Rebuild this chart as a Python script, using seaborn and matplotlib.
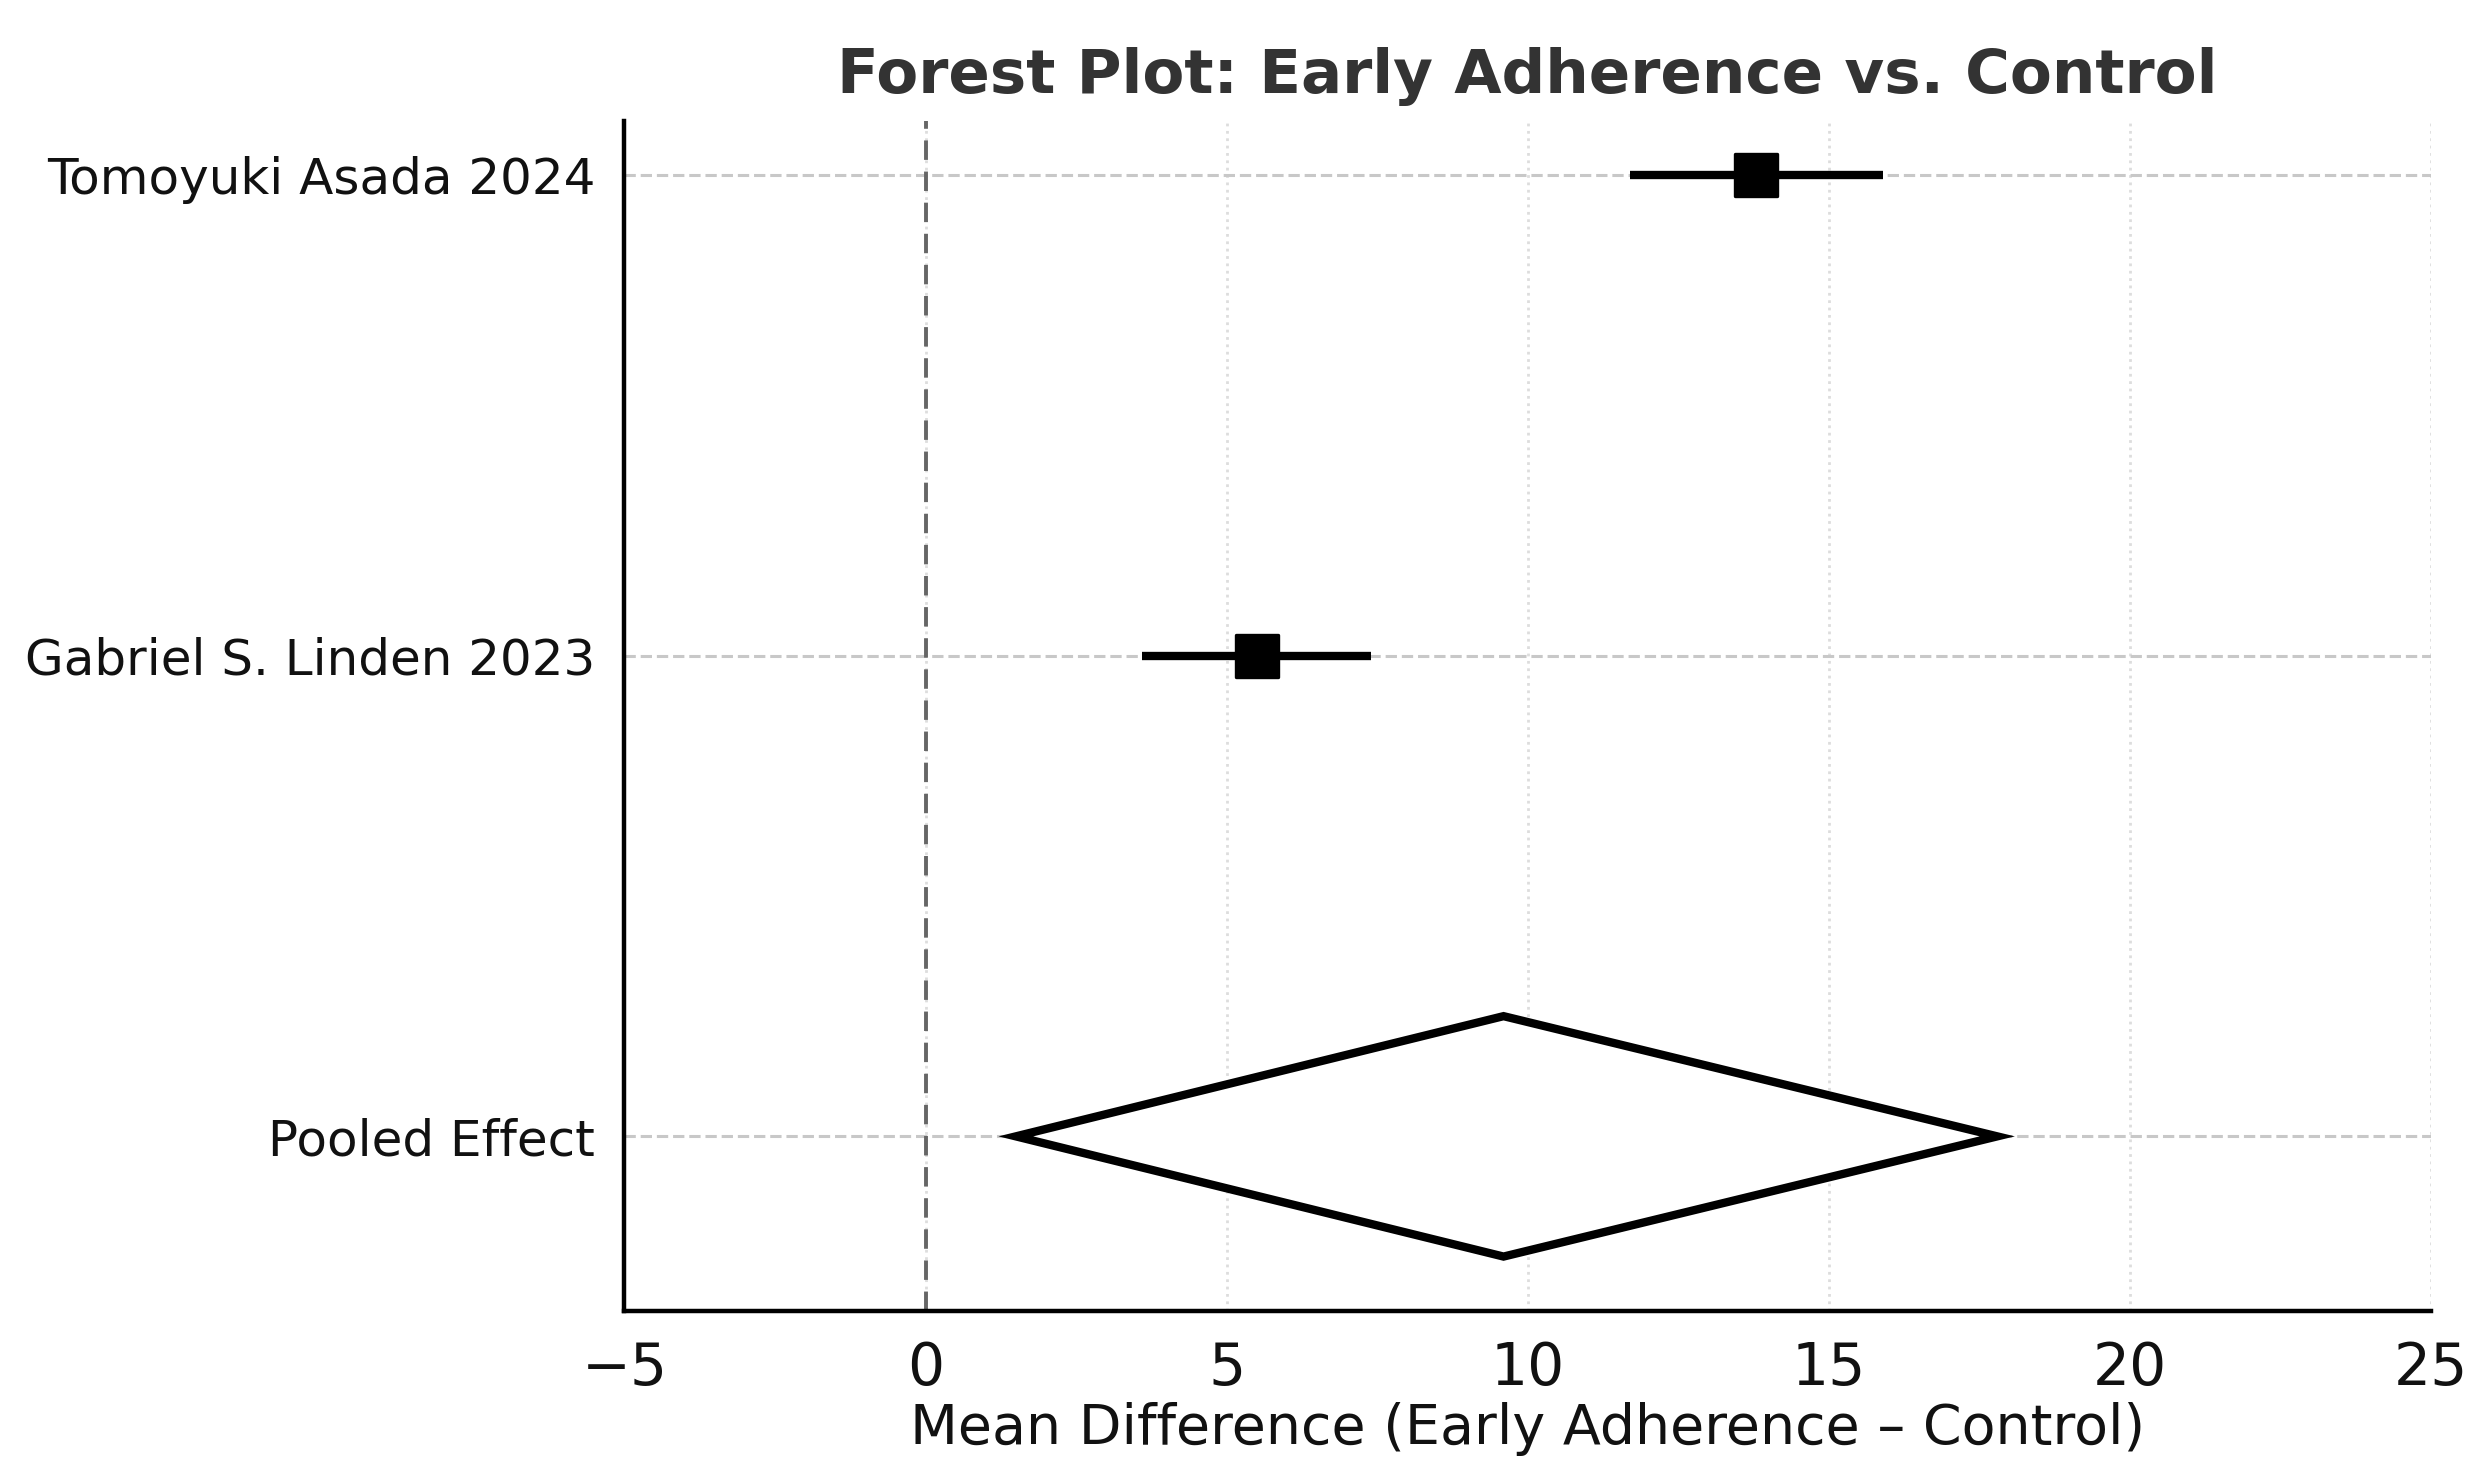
import numpy as np
import pandas as pd
import matplotlib.pyplot as plt
import seaborn as sns

# ── data ──
studies   = ["Tomoyuki Asada 2024", "Gabriel S. Linden 2023"]
effects   = [13.8, 5.5]
ci_low    = [11.7, 3.6]
ci_high   = [15.9, 7.4]

pooled_label = "Pooled Effect"
pooled_effect = 9.6
pooled_low    = 1.5
pooled_high   = 17.8

x_ticks = [-5, 0, 5, 10, 15, 20, 25]

sns.set_theme(style="white")
plt.rcParams["font.family"] = ["DejaVu Sans"]

df = pd.DataFrame({"study": studies, "effect": effects,
                   "low": ci_low, "high": ci_high})
df["ypos"] = np.arange(len(df), 0, -1)

fig, ax = plt.subplots(figsize=(12.44, 7.355), dpi=200)
fig.subplots_adjust(left=0.251, right=0.977, bottom=0.109, top=0.918)

# ── study estimates ──
ax.hlines(df["ypos"], df["low"], df["high"], color="black", linewidth=3.0, zorder=3)
sns.scatterplot(data=df, x="effect", y="ypos", marker="s", s=230,
                color="black", edgecolor="black", ax=ax, zorder=4, legend=False)

# ── pooled diamond ──
dx = [pooled_low, pooled_effect, pooled_high, pooled_effect]
dy = [0, 0.25, 0, -0.25]
ax.fill(dx, dy, facecolor="white", edgecolor="black", linewidth=3.0, zorder=3)

ax.axvline(0, color="#666666", linestyle=(0, (5, 3)), linewidth=1.4, zorder=2)

ax.set_yticks(list(df["ypos"]) + [0])
ax.set_yticklabels(studies + [pooled_label], fontsize=18)
ax.set_xticks(x_ticks)
ax.set_xlim(x_ticks[0], x_ticks[-1])
ax.tick_params(axis="x", labelsize=21, length=7, width=1.3, color="black")
ax.tick_params(axis="y", length=7, width=1.3, color="black")
for lab in ax.get_xticklabels() + ax.get_yticklabels():
    lab.set_color("#111111")

ax.yaxis.grid(True, linestyle="--", color="#c8c8c8", linewidth=1.1)
ax.xaxis.grid(True, linestyle=":", color="#dddddd", linewidth=1.0)
ax.set_axisbelow(True)

sns.despine(ax=ax)
for side in ["left", "bottom"]:
    ax.spines[side].set_color("black")
    ax.spines[side].set_linewidth(1.6)

ax.set_xlabel("Mean Difference (Early Adherence – Control)", fontsize=20,
              color="#111111", labelpad=2)
ax.set_ylabel("")
ax.set_title("Forest Plot: Early Adherence vs. Control", fontsize=22,
             fontweight="bold", color="#333333", pad=10)

fig.savefig("out.png", dpi=200)
